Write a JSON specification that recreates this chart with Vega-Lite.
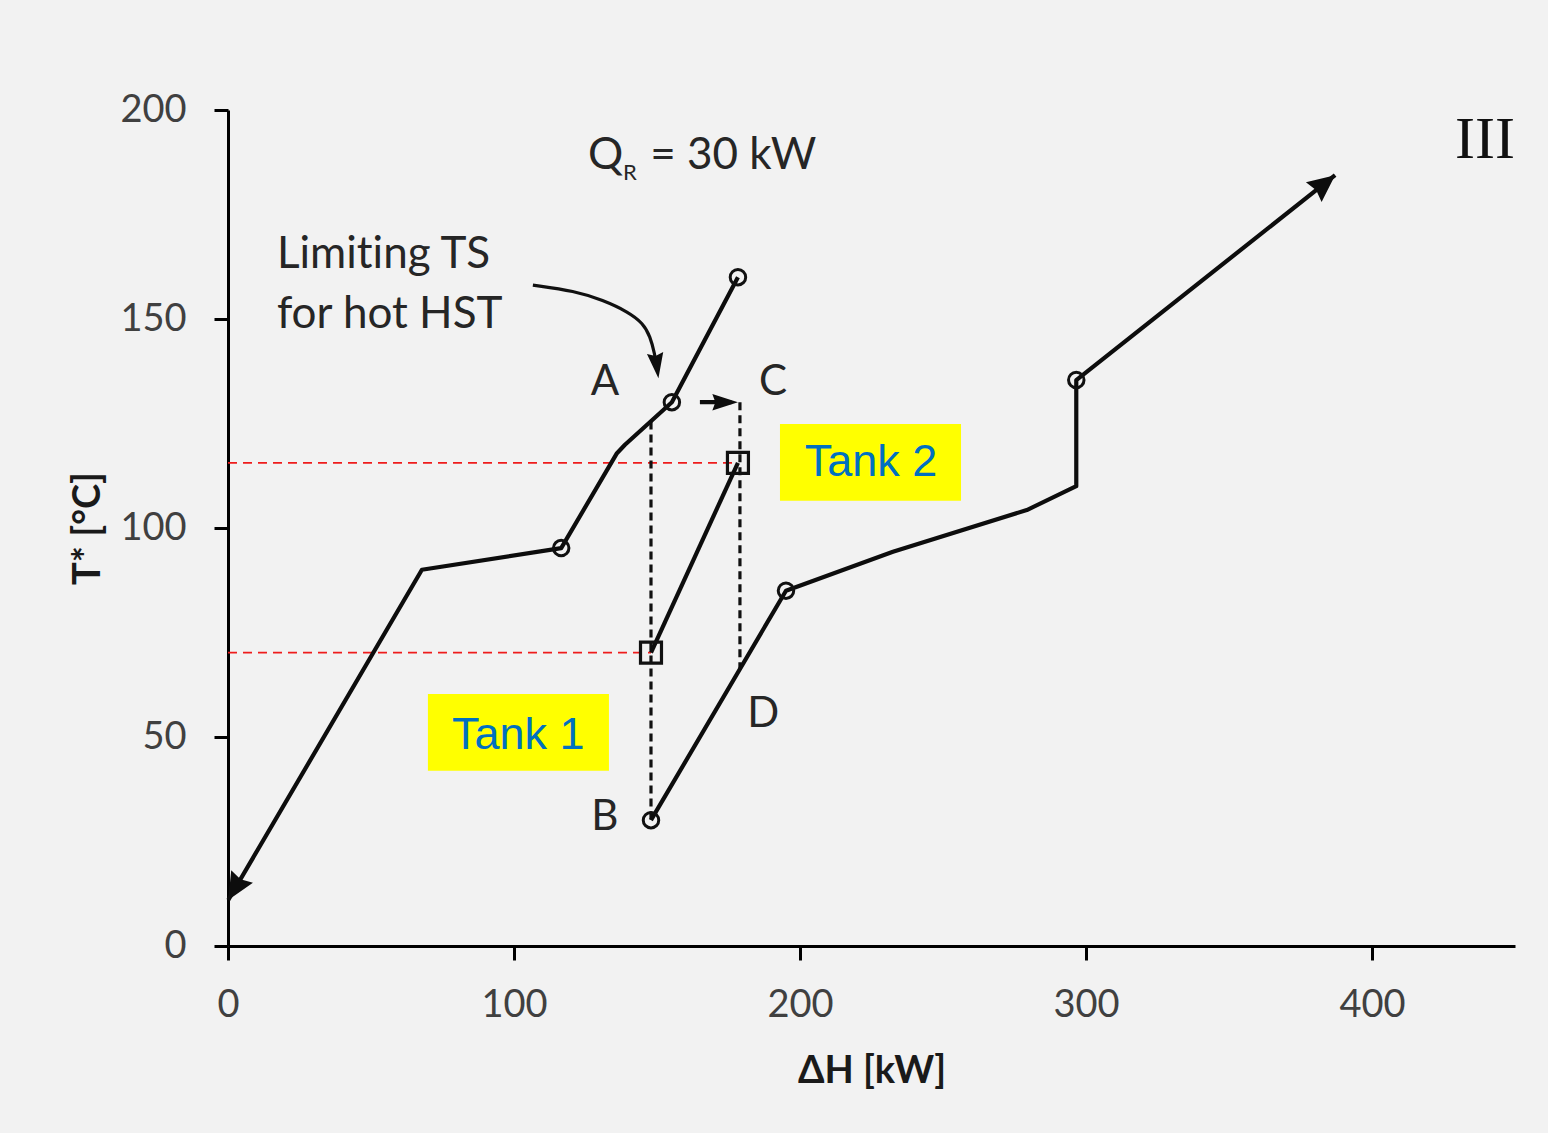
{
  "$schema": "https://vega.github.io/schema/vega-lite/v6.json",
  "width": 1287,
  "height": 836,
  "autosize": {"type": "none"},
  "padding": {"left": 228, "top": 110, "right": 33, "bottom": 187},
  "background": "#f2f2f2",
  "config": {"view": {"stroke": null}},
  "datasets": {
    "boxes": [
      {"x": 69.9, "x2": 133.2, "y": 41.9, "y2": 60.3},
      {"x": 193.0, "x2": 256.3, "y": 106.5, "y2": 124.9}
    ],
    "red": [
      {"s": "r1", "o": 1, "x": 0, "y": 115.6},
      {"s": "r1", "o": 2, "x": 178.3, "y": 115.6},
      {"s": "r2", "o": 1, "x": 0, "y": 70.2},
      {"s": "r2", "o": 2, "x": 147.9, "y": 70.2}
    ],
    "dash": [
      {"s": "v1", "o": 1, "x": 147.9, "y": 125.5},
      {"s": "v1", "o": 2, "x": 147.9, "y": 30.1},
      {"s": "v2", "o": 1, "x": 179.0, "y": 130.1},
      {"s": "v2", "o": 2, "x": 179.0, "y": 66.5}
    ],
    "solid": [
      {"s": "c1", "o": 1, "x": 0.1, "y": 11},
      {"s": "c1", "o": 2, "x": 67.8, "y": 90},
      {"s": "c1", "o": 3, "x": 116.5, "y": 95.2},
      {"s": "c1", "o": 4, "x": 136.0, "y": 117.9},
      {"s": "c1", "o": 5, "x": 138.8, "y": 119.9},
      {"s": "c1", "o": 6, "x": 155.2, "y": 130.1},
      {"s": "c1", "o": 7, "x": 178.3, "y": 160},
      {"s": "c2", "o": 1, "x": 147.9, "y": 30.1},
      {"s": "c2", "o": 2, "x": 195.1, "y": 85},
      {"s": "c2", "o": 3, "x": 232.5, "y": 94.3},
      {"s": "c2", "o": 4, "x": 279.3, "y": 104.3},
      {"s": "c2", "o": 5, "x": 296.6, "y": 110},
      {"s": "c2", "o": 6, "x": 296.6, "y": 135.4},
      {"s": "c2", "o": 7, "x": 387.1, "y": 184.4},
      {"s": "tank", "o": 1, "x": 147.9, "y": 70.2},
      {"s": "tank", "o": 2, "x": 178.3, "y": 115.6},
      {"s": "ac", "o": 1, "x": 165.0, "y": 130.1},
      {"s": "ac", "o": 2, "x": 176.0, "y": 130.1}
    ],
    "note": [
      {"o": 1, "x": 106.6, "y": 158.1},
      {"o": 2, "x": 121.3, "y": 156.7},
      {"o": 3, "x": 131.1, "y": 154.5},
      {"o": 4, "x": 139.9, "y": 151.7},
      {"o": 5, "x": 145.1, "y": 149.0},
      {"o": 6, "x": 147.6, "y": 145.9},
      {"o": 7, "x": 149.3, "y": 141.4},
      {"o": 8, "x": 149.7, "y": 139.0}
    ],
    "circles": [
      {"x": 116.5, "y": 95.2},
      {"x": 155.2, "y": 130.1},
      {"x": 178.3, "y": 160},
      {"x": 147.9, "y": 30.1},
      {"x": 195.1, "y": 85},
      {"x": 296.6, "y": 135.4}
    ],
    "squares": [
      {"x": 147.9, "y": 70.2},
      {"x": 178.3, "y": 115.6}
    ],
    "tipLow": [{"x": 0.1, "y": 11}],
    "tipHigh": [{"x": 387.1, "y": 184.4}],
    "tipAC": [{"x": 178.3, "y": 130.1}],
    "tipNote": [{"x": 150.5, "y": 135.8}],
    "letters": [
      {"t": "A", "x": 131.8, "y": 134.9},
      {"t": "C", "x": 190.6, "y": 134.9},
      {"t": "B", "x": 131.8, "y": 30.9},
      {"t": "D", "x": 187.1, "y": 55.5}
    ],
    "limiting": [
      {"t": "Limit‌ing TS", "x": 17.1, "y": 165.3},
      {"t": "for hot HST", "x": 17.1, "y": 151.0}
    ],
    "tanks": [
      {"t": "Tank 1", "x": 101.5, "y": 50.4},
      {"t": "Tank 2", "x": 224.8, "y": 115.7}
    ],
    "roman": [{"t": "III", "x": 439.5, "y": 192.8}],
    "qmain": [{"t": "Q", "x": 125.9, "y": 185.9}],
    "qsub": [{"t": "R", "x": 138.1, "y": 183.3}],
    "qrest": [{"t": "= 30 kW", "x": 147.6, "y": 185.9}]
  },
  "encoding": {
    "x": {
      "field": "x",
      "type": "quantitative",
      "scale": {"domain": [0, 450], "nice": false, "zero": false},
      "axis": {
        "title": "ΔH [kW]",
        "values": [0, 100, 200, 300, 400],
        "grid": false,
        "domainColor": "black",
        "domainWidth": 3,
        "tickColor": "black",
        "tickWidth": 3,
        "tickSize": 14,
        "labelFont": "Lato",
        "labelFontSize": 38,
        "labelColor": "#404040",
        "labelPadding": 26,
        "labelFlush": false,
        "titleFont": "Lato",
        "titleFontSize": 38,
        "titleFontWeight": "bold",
        "titleColor": "#1a1a1a",
        "titlePadding": 28
      }
    },
    "y": {
      "field": "y",
      "type": "quantitative",
      "scale": {"domain": [0, 200], "nice": false},
      "axis": {
        "title": "T* [°C]",
        "values": [0, 50, 100, 150, 200],
        "grid": false,
        "domainColor": "black",
        "domainWidth": 3,
        "tickColor": "black",
        "tickWidth": 3,
        "tickSize": 14,
        "labelFont": "Lato",
        "labelFontSize": 38,
        "labelColor": "#404040",
        "labelPadding": 28,
        "labelFlush": false,
        "titleFont": "Lato",
        "titleFontSize": 38,
        "titleFontWeight": "bold",
        "titleColor": "#1a1a1a",
        "titlePadding": 12
      }
    }
  },
  "layer": [
    {
      "data": {"name": "boxes"},
      "mark": {"type": "rect", "color": "#ffff00"},
      "encoding": {"x2": {"field": "x2"}, "y2": {"field": "y2"}}
    },
    {
      "data": {"name": "red"},
      "mark": {"type": "line", "color": "#ee1c1c", "strokeWidth": 1.8, "strokeDash": [9, 6]},
      "encoding": {"detail": {"field": "s"}, "order": {"field": "o"}}
    },
    {
      "data": {"name": "dash"},
      "mark": {"type": "line", "color": "#111111", "strokeWidth": 3.2, "strokeDash": [8, 5]},
      "encoding": {"detail": {"field": "s"}, "order": {"field": "o"}}
    },
    {
      "data": {"name": "solid"},
      "mark": {"type": "line", "color": "#0d0d0d", "strokeWidth": 4.2, "strokeJoin": "round"},
      "encoding": {"detail": {"field": "s"}, "order": {"field": "o"}}
    },
    {
      "data": {"name": "note"},
      "mark": {"type": "line", "color": "#111111", "strokeWidth": 3.2, "interpolate": "basis"},
      "encoding": {"order": {"field": "o"}}
    },
    {
      "data": {"name": "circles"},
      "mark": {"type": "point", "shape": "circle", "filled": false, "color": "#111111", "strokeWidth": 3, "size": 240, "opacity": 1}
    },
    {
      "data": {"name": "squares"},
      "mark": {"type": "point", "shape": "square", "filled": false, "color": "#111111", "strokeWidth": 3.2, "size": 440, "opacity": 1}
    },
    {
      "data": {"name": "tipLow"},
      "mark": {"type": "point", "shape": "M0,0L-1.2,2.6L0,2.3L1.2,2.6Z", "filled": true, "color": "#0d0d0d", "size": 440, "opacity": 1, "strokeWidth": 0, "angle": 210.4}
    },
    {
      "data": {"name": "tipHigh"},
      "mark": {"type": "point", "shape": "M0,0L-1.2,2.6L0,2.3L1.2,2.6Z", "filled": true, "color": "#0d0d0d", "size": 440, "opacity": 1, "strokeWidth": 0, "angle": 51.5}
    },
    {
      "data": {"name": "tipAC"},
      "mark": {"type": "point", "shape": "M0,0L-0.8,2.5L0,2.2L0.8,2.5Z", "filled": true, "color": "#0d0d0d", "size": 420, "opacity": 1, "strokeWidth": 0, "angle": 90}
    },
    {
      "data": {"name": "tipNote"},
      "mark": {"type": "point", "shape": "M0,0L-0.8,2.5L0,2.2L0.8,2.5Z", "filled": true, "color": "#0d0d0d", "size": 420, "opacity": 1, "strokeWidth": 0, "angle": 172.5}
    },
    {
      "data": {"name": "letters"},
      "mark": {"type": "text", "font": "Lato", "fontSize": 42, "color": "#262626", "align": "center", "baseline": "middle"},
      "encoding": {"text": {"field": "t"}}
    },
    {
      "data": {"name": "limiting"},
      "mark": {"type": "text", "font": "Lato", "fontSize": 44, "color": "#262626", "align": "left", "baseline": "middle"},
      "encoding": {"text": {"field": "t"}}
    },
    {
      "data": {"name": "tanks"},
      "mark": {"type": "text", "font": "Liberation Sans", "fontSize": 45, "color": "#0070c0", "align": "center", "baseline": "middle"},
      "encoding": {"text": {"field": "t"}}
    },
    {
      "data": {"name": "roman"},
      "mark": {"type": "text", "font": "Liberation Serif", "fontSize": 60, "color": "#111111", "align": "center", "baseline": "middle"},
      "encoding": {"text": {"field": "t"}}
    },
    {
      "data": {"name": "qmain"},
      "mark": {"type": "text", "font": "Lato", "fontSize": 44, "color": "#262626", "align": "left", "baseline": "alphabetic"},
      "encoding": {"text": {"field": "t"}}
    },
    {
      "data": {"name": "qsub"},
      "mark": {"type": "text", "font": "Lato", "fontSize": 22, "color": "#262626", "align": "left", "baseline": "alphabetic"},
      "encoding": {"text": {"field": "t"}}
    },
    {
      "data": {"name": "qrest"},
      "mark": {"type": "text", "font": "Lato", "fontSize": 44, "color": "#262626", "align": "left", "baseline": "alphabetic"},
      "encoding": {"text": {"field": "t"}}
    }
  ]
}
